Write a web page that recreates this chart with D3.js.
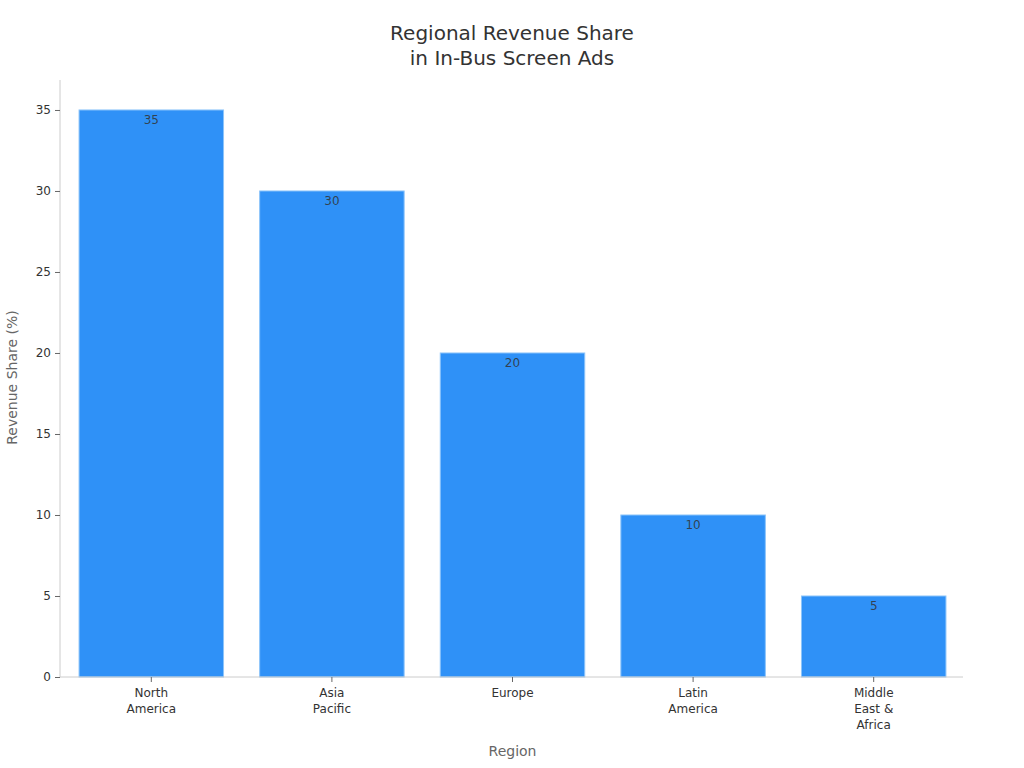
<!DOCTYPE html>
<html><head><meta charset="utf-8">
<script src="https://cdn.jsdelivr.net/npm/d3@7"></script>
<style>body{margin:0;background:#fff;font-family:"DejaVu Sans",sans-serif;}</style>
</head><body><svg id="c" width="1024" height="768"></svg>
<script>
const categories = [["North","America"],["Asia","Pacific"],["Europe"],["Latin","America"],["Middle","East &","Africa"]];
const values = [35, 30, 20, 10, 5];
const yTicks = [0, 5, 10, 15, 20, 25, 30, 35];
const titleLines = ["Regional Revenue Share", "in In-Bus Screen Ads"];

const svg = d3.select("#c");
const m = {l:60, r:963, t:80, b:677};
const keys = categories.map(c => c.join(" "));
const x = d3.scaleBand().domain(keys).range([m.l + 1, m.r + 1]).paddingInner(0.2).paddingOuter(0.1);
const y = d3.scaleLinear().domain([0, 36.85]).range([m.b, m.t]);

svg.append("text").attr("x", 512).attr("text-anchor","middle").attr("fill","#333").attr("font-size",20)
  .selectAll("tspan").data(titleLines).join("tspan").attr("x",512).attr("y",(d,i)=>40+i*25).text(d=>d);

svg.selectAll("rect.bar").data(values).join("rect").attr("class","bar")
  .attr("x",(d,i)=>x(keys[i])).attr("width",x.bandwidth())
  .attr("y",d=>y(d)).attr("height",d=>y(0)-y(d))
  .attr("fill","#2f91f7").attr("stroke","#8cc4fa").attr("stroke-width",1);

svg.selectAll("text.val").data(values).join("text").attr("class","val")
  .attr("x",(d,i)=>x(keys[i])+x.bandwidth()/2).attr("y",d=>y(d)+14)
  .attr("text-anchor","middle").attr("font-size",12).attr("fill","#333").attr("fill-opacity",0.85).text(d=>d);

const ya = svg.append("g").attr("transform",`translate(${m.l},0)`)
  .call(d3.axisLeft(y).tickValues(yTicks).tickSize(5).tickPadding(4));
ya.select(".domain").attr("stroke","#ccc").attr("d",`M0,${m.t}V${m.b}`);
ya.selectAll(".tick line").attr("stroke","#666");
ya.selectAll(".tick text").attr("fill","#333").attr("font-size",12).attr("font-family","DejaVu Sans");

const xa = svg.append("g").attr("transform",`translate(0,${m.b})`)
  .call(d3.axisBottom(x).tickSize(5).tickFormat(""));
xa.select(".domain").attr("stroke","#ccc").attr("d",`M${m.l},0H${m.r}`);
xa.selectAll(".tick line").attr("stroke","#666");
xa.selectAll(".tick").each(function(d,i){
  const t = d3.select(this).append("text").attr("fill","#333").attr("font-size",12).attr("text-anchor","middle").attr("font-family","DejaVu Sans");
  categories[i].forEach((line,j)=>t.append("tspan").attr("x",0).attr("y",20+j*16).text(line));
});

svg.append("text").attr("x",(m.l+m.r)/2+1).attr("y",756).attr("text-anchor","middle").attr("fill","#666").attr("font-size",14).text("Region");
svg.append("text").attr("transform",`translate(17,${(m.t+m.b)/2-1}) rotate(-90)`).attr("text-anchor","middle").attr("fill","#666").attr("font-size",14).text("Revenue Share (%)");
</script></body></html>
